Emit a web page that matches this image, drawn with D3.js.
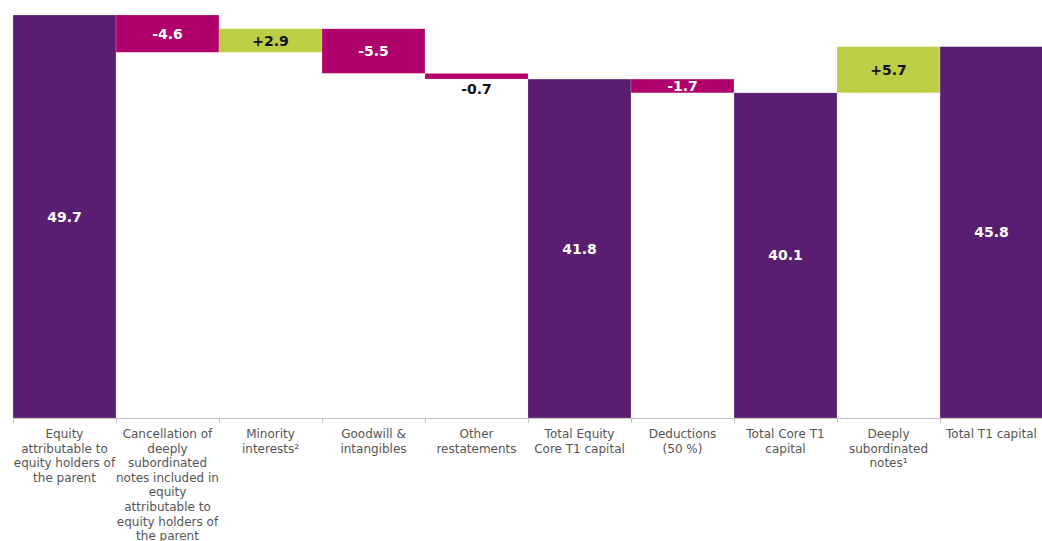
<!DOCTYPE html>
<html lang="en">
<head>
  <meta charset="utf-8" />
  <title>Equity to T1 capital waterfall</title>
  <style>
    html, body { margin: 0; padding: 0; background: #fff; }
    svg { display: block; font-family: "DejaVu Sans", Verdana, sans-serif; }
    .cat { font-size: 12px; fill: #555; }
    .val { font-size: 14px; font-weight: bold; }
    .axis line, .axis path { stroke: #c4c4c4; }
  </style>
</head>
<body>
<svg id="chart" width="1042" height="541"></svg>

<script src="https://d3js.org/d3.v7.min.js"></script>
<script>
  // categories (line breaks as in the original)
  const categories = [
    "Equity\nattributable to\nequity holders of\nthe parent",
    "Cancellation of\ndeeply\nsubordinated\nnotes included in\nequity\nattributable to\nequity holders of\nthe parent",
    "Minority\ninterests²",
    "Goodwill &\nintangibles",
    "Other\nrestatements",
    "Total Equity\nCore T1 capital",
    "Deductions\n(50 %)",
    "Total Core T1\ncapital",
    "Deeply\nsubordinated\nnotes¹",
    "Total T1 capital"
  ];
  // change per step; totals are flagged separately
  const values = [49.7, -4.6, 2.9, -5.5, -0.7, 41.8, -1.7, 40.1, 5.7, 45.8];
  const isTotal = [true, false, false, false, false, true, false, true, false, true];

  const colors = { total: "#5a1e70", neg: "#b0006b", pos: "#bdcd45" };

  // build steps
  let running = 0;
  const steps = values.map((v, i) => {
    let lo, hi;
    if (isTotal[i]) { lo = 0; hi = v; running = v; }
    else { const s = running; running = s + v; lo = Math.min(s, running); hi = Math.max(s, running); }
    return { cat: categories[i], v, lo, hi, total: isTotal[i] };
  });

  const svg = d3.select("#chart");
  const base = 418;

  const x = d3.scaleBand().domain(d3.range(categories.length)).range([13, 1043]).padding(0);
  const y = d3.scaleLinear().domain([0, d3.max(steps, d => d.hi)]).range([base, 15]);

  // axis line with ticks at band boundaries
  const axis = svg.append("g").attr("class", "axis");
  axis.append("line").attr("x1", 13).attr("x2", 1043).attr("y1", base + 0.5).attr("y2", base + 0.5);
  axis.selectAll("line.tick").data(d3.range(categories.length + 1)).enter().append("line")
    .attr("class", "tick")
    .attr("x1", i => Math.round(13 + i * x.bandwidth()) + 0.5)
    .attr("x2", i => Math.round(13 + i * x.bandwidth()) + 0.5)
    .attr("y1", base).attr("y2", base + 5);

  // bars
  svg.selectAll("rect.bar").data(steps).enter().append("rect")
    .attr("class", "bar")
    .attr("x", (d, i) => x(i))
    .attr("width", x.bandwidth())
    .attr("y", d => y(d.hi))
    .attr("height", d => y(d.lo) - y(d.hi))
    .attr("fill", d => d.total ? colors.total : (d.v < 0 ? colors.neg : colors.pos))
    .attr("stroke", "rgba(255,255,255,0.35)")
    .attr("stroke-width", 0.6);

  // value labels
  const fmt = d => d.total ? d.v.toFixed(1) : (d.v > 0 ? "+" : "") + d.v.toFixed(1);
  svg.selectAll("text.val").data(steps).enter().append("text")
    .attr("class", "val")
    .attr("text-anchor", "middle")
    .attr("dominant-baseline", "central")
    .attr("x", (d, i) => x(i) + x.bandwidth() / 2)
    .attr("y", d => {
      const h = y(d.lo) - y(d.hi);
      return h < 10 ? y(d.lo) + 10 : (y(d.lo) + y(d.hi)) / 2;
    })
    .attr("fill", d => {
      const h = y(d.lo) - y(d.hi);
      if (h < 10) return "#111";
      return (!d.total && d.v > 0) ? "#111" : "#fff";
    })
    .text(fmt);

  // category labels
  const cats = svg.selectAll("text.cat").data(steps).enter().append("text")
    .attr("class", "cat")
    .attr("text-anchor", "middle")
    .attr("x", (d, i) => x(i) + x.bandwidth() / 2)
    .attr("y", 438);
  cats.selectAll("tspan").data(d => d.cat.split("\n")).enter().append("tspan")
    .attr("x", function () { return d3.select(this.parentNode).attr("x"); })
    .attr("dy", (d, j) => j === 0 ? 0 : 14.6)
    .text(d => d);
</script>
</body>
</html>
